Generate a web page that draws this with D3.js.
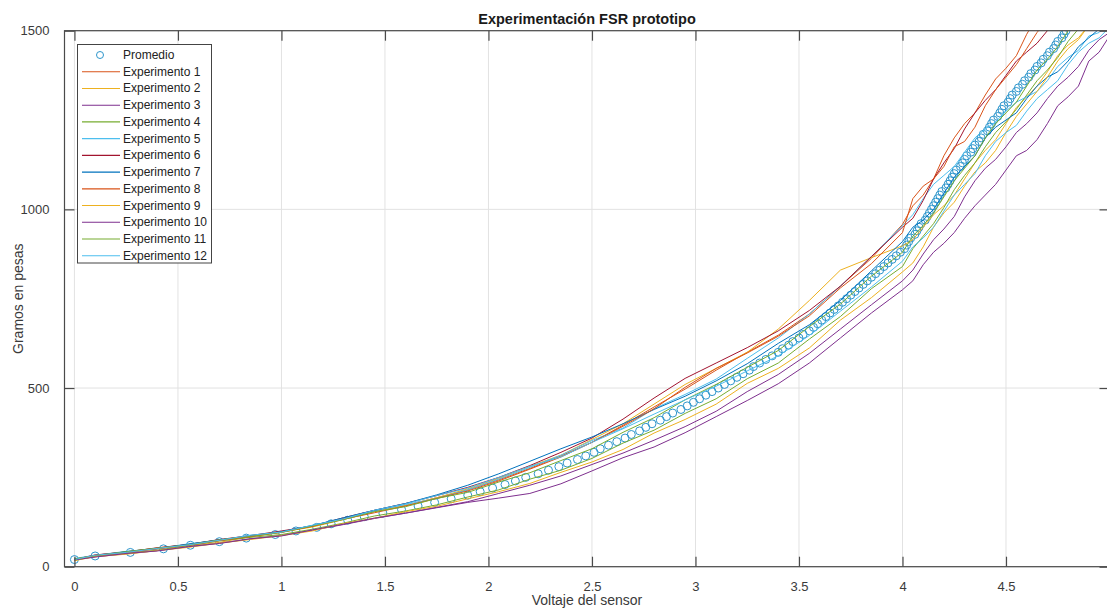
<!DOCTYPE html>
<html>
<head>
<meta charset="utf-8">
<script src="https://cdn.jsdelivr.net/npm/d3@7"></script>
<style>
  html, body { margin: 0; padding: 0; background: #fff; }
  svg { display: block; font-family: "Liberation Sans", Arial, Helvetica, sans-serif; }
</style>
</head>
<body>
<div id="chart"></div>
<script>
// voltage levels shared by the experiment curves
const voltLevels = [0, 0.1, 0.25, 0.4, 0.55, 0.7, 0.85, 1.0, 1.15, 1.3, 1.45, 1.6, 1.75, 1.9, 2.05, 2.2, 2.35, 2.5, 2.65, 2.8, 2.95, 3.1, 3.25, 3.4, 3.55, 3.7, 3.85,
  4.0, 4.05, 4.1, 4.15, 4.2, 4.25, 4.3, 4.35, 4.4, 4.45, 4.5, 4.55, 4.6, 4.65, 4.7, 4.75, 4.8, 4.85, 4.9, 4.95, 5.0, 5.05, 5.1];

// grams read for each experiment at those voltages (null = curve has left the plot)
const exp1 = [20,32,42,52,62,75,86,98,113,135,156,171,193,215,243,275,310,348,396,447,497,550,600,648,707,785,863,
  958,1010,1040,1085,1150,1200,1240,1270,1320,1365,1395,1430,1490,1540,1570,null,null,null,null,null,null,null,null];
const exp2 = [18,29,41,51,59,68,84,97,111,132,154,172,193,218,247,281,312,356,400,455,510,555,600,665,745,830,865,
  898,915,950,985,1010,1040,1085,1130,1165,1195,1240,1285,1315,1345,1385,1430,1460,1480,1515,null,null,null,null];
const exp3 = [20,28,36,45,56,66,78,88,102,118,135,150,165,180,192,205,232,268,305,335,375,420,465,512,570,640,710,
  775,800,845,880,905,935,975,1010,1040,1070,1110,1150,1165,1195,1240,1290,1315,1345,1415,1440,1485,1510,null];
const exp4 = [18,30,38,46,59,72,82,90,105,122,142,156,173,195,215,245,270,303,346,382,429,470,526,570,637,700,778,
  840,890,925,960,1005,1055,1095,1130,1175,1215,1245,1280,1320,1360,1390,1425,1470,1505,1535,null,null,null,null];
const exp5 = [23,32,43,51,64,74,88,97,116,133,156,174,191,215,245,278,312,353,388,442,482,525,583,640,707,785,868,
  955,985,1030,1070,1095,1120,1160,1200,1225,1245,1275,1300,1315,1330,1360,1400,1425,1445,1485,1495,1525,null,null];
const exp6 = [20,33,41,53,62,76,87,100,114,137,158,177,199,222,250,283,320,360,413,472,527,570,613,660,717,785,868,
  950,975,1025,1085,1130,1170,1225,1270,1305,1335,1375,1415,1440,1465,1500,1535,1560,null,null,null,null,null,null];
const exp7 = [21,30,42,50,63,75,85,98,115,137,158,177,201,228,260,295,330,363,400,440,477,520,568,625,677,745,828,
  910,950,970,1000,1045,1090,1120,1150,1200,1230,1250,1270,1310,1345,1370,1385,1415,1455,1480,1505,1545,null,null];
const exp8 = [19,31,39,50,60,73,84,96,113,133,151,170,191,212,240,273,307,348,393,442,502,555,598,645,702,780,848,
  935,1030,1065,1085,1120,1175,1190,1230,1290,1335,1370,1405,1450,1495,1530,null,null,null,null,null,null,null,null];
const exp9 = [17,28,35,45,54,66,76,87,100,121,136,154,169,190,210,233,264,293,328,374,412,455,513,555,612,690,753,
  825,850,895,950,990,1020,1065,1105,1130,1165,1215,1260,1295,1330,1370,1415,1450,1475,1515,null,null,null,null];
const exp10 = [19,27,37,44,56,65,78,86,103,119,136,150,166,182,205,228,254,286,318,354,392,435,490,538,597,665,733,
  800,830,875,915,945,980,1035,1080,1115,1140,1175,1215,1240,1270,1310,1345,1370,1400,1445,1475,1495,1520,1560];
const exp11 = [22,31,42,52,61,75,85,96,114,132,154,168,191,208,237,263,297,330,376,417,467,510,558,605,672,735,813,
  880,925,955,990,1035,1080,1115,1150,1200,1240,1270,1300,1345,1390,1420,1455,1500,1540,1570,null,null,null,null];
const exp12 = [20,32,40,51,61,74,88,97,116,134,158,176,199,220,250,281,307,348,386,427,467,505,548,590,647,715,783,
  855,895,920,950,995,1040,1070,1100,1150,1190,1215,1235,1275,1310,1335,1360,1405,1440,1465,1480,1510,null,null];

// average ("Promedio") markers: grams and the voltage read at each
const promedioGramos = [20,30,40,50,60,70,80,90,100,110,120,130,140,150,160,170,180,190,200,210,220,230,240,250,260,270,280,290,300,310,320,330,340,350,360,370,380,390,400,410,420,430,440,450,460,470,480,490,500,510,520,530,540,550,560,570,580,590,600,610,620,630,640,650,660,670,680,690,700,710,720,730,740,750,760,770,780,790,800,810,820,830,840,850,860,870,880,890,900,910,920,930,940,950,960,970,980,990,1000,1010,1020,1030,1040,1050,1060,1070,1080,1090,1100,1110,1120,1130,1140,1150,1160,1170,1180,1190,1200,1210,1220,1230,1240,1250,1260,1270,1280,1290,1300,1310,1320,1330,1340,1350,1360,1370,1380,1390,1400,1410,1420,1430,1440,1450,1460,1470,1480,1490,1500];
const promedioVoltaje = [0.00,0.10,0.27,0.43,0.56,0.70,0.83,0.97,1.07,1.17,1.24,1.32,1.40,1.49,1.58,1.66,1.74,1.82,1.90,1.96,2.02,2.08,2.13,2.18,2.24,2.29,2.34,2.38,2.43,2.47,2.51,2.54,2.58,2.62,2.66,2.69,2.73,2.76,2.79,2.83,2.86,2.89,2.93,2.96,2.99,3.02,3.05,3.08,3.11,3.14,3.17,3.20,3.23,3.26,3.28,3.31,3.34,3.37,3.40,3.42,3.45,3.47,3.50,3.52,3.55,3.57,3.59,3.61,3.63,3.65,3.67,3.69,3.71,3.73,3.75,3.77,3.79,3.81,3.83,3.85,3.87,3.89,3.91,3.93,3.95,3.97,3.99,4.01,4.02,4.03,4.04,4.06,4.07,4.08,4.09,4.11,4.12,4.13,4.14,4.15,4.16,4.17,4.18,4.19,4.21,4.22,4.23,4.24,4.25,4.26,4.28,4.29,4.30,4.31,4.33,4.34,4.35,4.37,4.38,4.39,4.41,4.42,4.43,4.44,4.46,4.47,4.48,4.49,4.51,4.52,4.53,4.55,4.56,4.58,4.59,4.61,4.62,4.64,4.65,4.67,4.68,4.70,4.71,4.73,4.74,4.75,4.77,4.78,4.79];

const experimentNames = ["Experimento 1","Experimento 2","Experimento 3","Experimento 4","Experimento 5","Experimento 6","Experimento 7","Experimento 8","Experimento 9","Experimento 10","Experimento 11","Experimento 12"];
const xTicks = [0, 0.5, 1, 1.5, 2, 2.5, 3, 3.5, 4, 4.5, 5];
const yTicks = [0, 500, 1000, 1500];

const experiments = [exp1, exp2, exp3, exp4, exp5, exp6, exp7, exp8, exp9, exp10, exp11, exp12];

// matlab default colour order (Promedio takes the first one)
const colorOrder = ["#0072BD","#D95319","#EDB120","#7E2F8E","#77AC30","#4DBEEE","#A2142F"];
const markerColor = "#2E96CC";

const width = 1107, height = 609;
const plot = { left: 64.5, right: 1109.5, top: 30.7, bottom: 566.7 };

const svg = d3.select("#chart").append("svg")
  .attr("width", width)
  .attr("height", height);

svg.append("rect").attr("width", width).attr("height", height).attr("fill", "#fff");

const x = d3.scaleLinear().domain([-0.048, 5]).range([plot.left, plot.right]);
const y = d3.scaleLinear().domain([0, 1500]).range([plot.bottom, plot.top]);

svg.append("defs").append("clipPath").attr("id", "plot-clip")
  .append("rect")
  .attr("x", plot.left).attr("y", plot.top)
  .attr("width", plot.right - plot.left).attr("height", plot.bottom - plot.top);

// grid
const grid = svg.append("g").attr("class", "grid");
grid.selectAll("line.vx")
  .data(xTicks)
  .enter().append("line")
  .attr("x1", d => x(d)).attr("x2", d => x(d))
  .attr("y1", plot.top).attr("y2", plot.bottom)
  .attr("stroke", "#e2e2e2").attr("stroke-width", 1);
grid.selectAll("line.hy")
  .data(yTicks)
  .enter().append("line")
  .attr("x1", plot.left).attr("x2", plot.right)
  .attr("y1", d => y(d)).attr("y2", d => y(d))
  .attr("stroke", "#e2e2e2").attr("stroke-width", 1);

// data
const data = svg.append("g").attr("clip-path", "url(#plot-clip)");

data.selectAll("circle.prom")
  .data(promedioGramos.map((g, i) => ({ v: promedioVoltaje[i], g })))
  .enter().append("circle")
  .attr("class", "prom")
  .attr("cx", d => x(d.v))
  .attr("cy", d => y(d.g))
  .attr("r", 4)
  .attr("fill", "none")
  .attr("stroke", markerColor)
  .attr("stroke-width", 1);

const line = d3.line()
  .defined(d => d.g != null)
  .x(d => x(d.v))
  .y(d => y(d.g));

data.selectAll("path.exp")
  .data(experiments)
  .enter().append("path")
  .attr("class", "exp")
  .attr("d", arr => line(arr.map((g, i) => ({ v: voltLevels[i], g }))))
  .attr("fill", "none")
  .attr("stroke", (d, i) => colorOrder[(i + 1) % colorOrder.length])
  .attr("stroke-width", 1)
  .attr("stroke-linejoin", "round");

// axes (matlab style: ticks inside, box on)
const tickLen = 10;
const axisColor = "#4a4a4a";

// the "5" label sits past the right edge of the window in the original, so it is left blank
const xFormat = d => (d >= 5 ? "" : d3.format("~g")(d));

const xAxisBottom = d3.axisBottom(x).tickValues(xTicks).tickSize(-tickLen).tickPadding(tickLen + 5).tickFormat(xFormat);
const xAxisTop = d3.axisTop(x).tickValues(xTicks).tickSize(-tickLen).tickFormat("");
const yAxisLeft = d3.axisLeft(y).tickValues(yTicks).tickSize(-tickLen).tickPadding(tickLen + 5).tickFormat(d3.format("d"));
const yAxisRight = d3.axisRight(y).tickValues(yTicks).tickSize(-tickLen).tickFormat("");

function styleAxis(g) {
  g.select(".domain").remove();
  g.selectAll(".tick line").attr("stroke", axisColor).attr("stroke-width", 1.2);
  g.selectAll(".tick text").attr("fill", "#3a3a3a").style("font-size", "13px")
    .style("font-family", "'Liberation Sans', Arial, sans-serif");
}

svg.append("g").attr("transform", `translate(0,${plot.bottom})`).call(xAxisBottom).call(styleAxis);
svg.append("g").attr("transform", `translate(0,${plot.top})`).call(xAxisTop).call(styleAxis);
svg.append("g").attr("transform", `translate(${plot.left},0)`).call(yAxisLeft).call(styleAxis);
svg.append("g").attr("transform", `translate(${plot.right},0)`).call(yAxisRight).call(styleAxis);

svg.append("rect")
  .attr("x", plot.left).attr("y", plot.top)
  .attr("width", plot.right - plot.left).attr("height", plot.bottom - plot.top)
  .attr("fill", "none")
  .attr("stroke", axisColor)
  .attr("stroke-width", 1.2);

// labels
svg.append("text")
  .attr("x", (plot.left + plot.right) / 2).attr("y", 24)
  .attr("text-anchor", "middle")
  .style("font-size", "14.5px").style("font-weight", "700")
  .attr("fill", "#1a1a1a")
  .text("Experimentación FSR prototipo");

svg.append("text")
  .attr("x", (plot.left + plot.right) / 2).attr("y", 605)
  .attr("text-anchor", "middle")
  .style("font-size", "14px")
  .attr("fill", "#3a3a3a")
  .text("Voltaje del sensor");

svg.append("text")
  .attr("transform", `translate(23,${(plot.top + plot.bottom) / 2}) rotate(-90)`)
  .attr("text-anchor", "middle")
  .style("font-size", "14px")
  .attr("fill", "#3a3a3a")
  .text("Gramos en pesas");

// legend
const legend = svg.append("g");
legend.append("rect")
  .attr("x", 77.5).attr("y", 44.5)
  .attr("width", 134).attr("height", 218.5)
  .attr("fill", "#fff")
  .attr("stroke", "#444").attr("stroke-width", 1);

const rowY = i => 55 + i * 16.73;

legend.append("circle")
  .attr("cx", 100).attr("cy", rowY(0))
  .attr("r", 3.5)
  .attr("fill", "none").attr("stroke", markerColor).attr("stroke-width", 1);
legend.append("text")
  .attr("x", 123).attr("y", rowY(0) + 4)
  .style("font-size", "12px").attr("fill", "#222")
  .text("Promedio");

const rows = legend.selectAll("g.row")
  .data(experimentNames)
  .enter().append("g")
  .attr("class", "row")
  .attr("transform", (d, i) => `translate(0,${rowY(i + 1)})`);

rows.append("line")
  .attr("x1", 82).attr("x2", 120)
  .attr("y1", 0).attr("y2", 0)
  .attr("stroke", (d, i) => colorOrder[(i + 1) % colorOrder.length])
  .attr("stroke-width", 1.1);

rows.append("text")
  .attr("x", 123).attr("y", 4)
  .style("font-size", "12px").attr("fill", "#222")
  .text(d => d);
</script>
</body>
</html>
